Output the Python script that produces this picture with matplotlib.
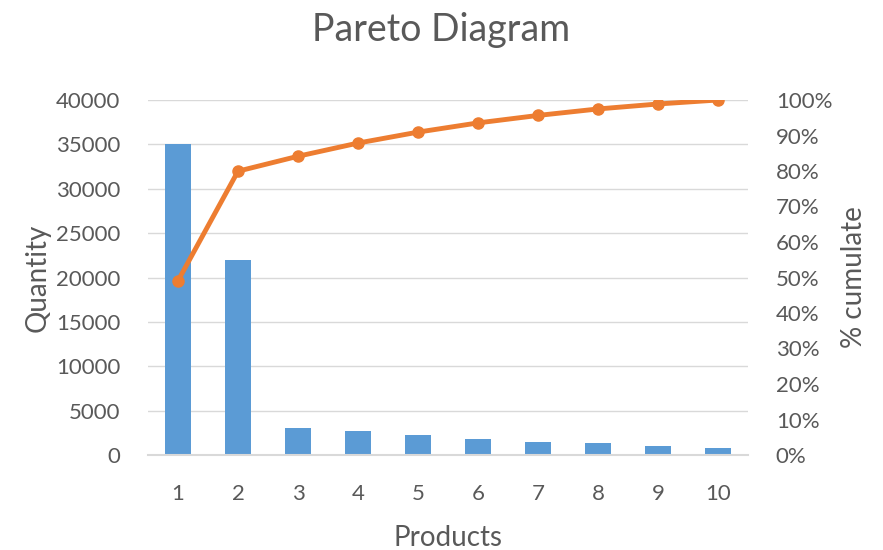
import matplotlib.pyplot as plt
import numpy as np
from matplotlib.ticker import PercentFormatter

plt.rcParams['font.family'] = ['Lato', 'DejaVu Sans']

# quantity sold per product
products = ['1', '2', '3', '4', '5', '6', '7', '8', '9', '10']
quantity = [35000, 22000, 3000, 2650, 2200, 1850, 1500, 1300, 1000, 800]

# running share of the total
cumulate = np.cumsum(quantity) / sum(quantity) * 100

text_color = '#595959'
bar_color = '#5B9BD5'
line_color = '#ED7D31'
grid_color = '#D9D9D9'

fig = plt.figure(figsize=(8.83, 5.5), dpi=100)
ax = fig.add_axes([148 / 883, 95 / 550, 600 / 883, 355 / 550])
x = np.arange(len(products))

ax.bar(x, quantity, width=0.42, color=bar_color, zorder=2)
ax.set_ylim(0, 40000)
ax.set_yticks(range(0, 40001, 5000))
ax.set_xlim(-0.5, len(products) - 0.5)
ax.set_xticks(x)
ax.set_xticklabels(products)
ax.grid(axis='y', color=grid_color, linewidth=1, zorder=0)
for side in ['top', 'right', 'left']:
    ax.spines[side].set_visible(False)
ax.spines['bottom'].set_color(grid_color)
ax.spines['bottom'].set_linewidth(1.5)
ax.tick_params(axis='both', length=0, labelsize=16, colors=text_color)
ax.tick_params(axis='y', pad=20)
ax.tick_params(axis='x', pad=21)
ax.set_xlabel('Products', fontsize=20, color=text_color, labelpad=15)
ax.set_ylabel('Quantity', fontsize=20, color=text_color)
ax.yaxis.set_label_coords(-0.163, 0.5)

ax2 = ax.twinx()
ax2.plot(x, cumulate, color=line_color, linewidth=3.5, marker='o',
         markersize=8, zorder=3)
ax2.set_ylim(0, 100)
ax2.set_yticks(range(0, 101, 10))
ax2.yaxis.set_major_formatter(PercentFormatter(decimals=0))
for side in ['top', 'right', 'left', 'bottom']:
    ax2.spines[side].set_visible(False)
ax2.tick_params(axis='y', length=0, labelsize=16, colors=text_color, pad=20)
ax2.set_ylabel('% cumulate', fontsize=20, color=text_color, labelpad=6)

fig.suptitle('Pareto Diagram', fontsize=27, color=text_color, y=0.978)

fig.savefig('out.png', dpi=100)
